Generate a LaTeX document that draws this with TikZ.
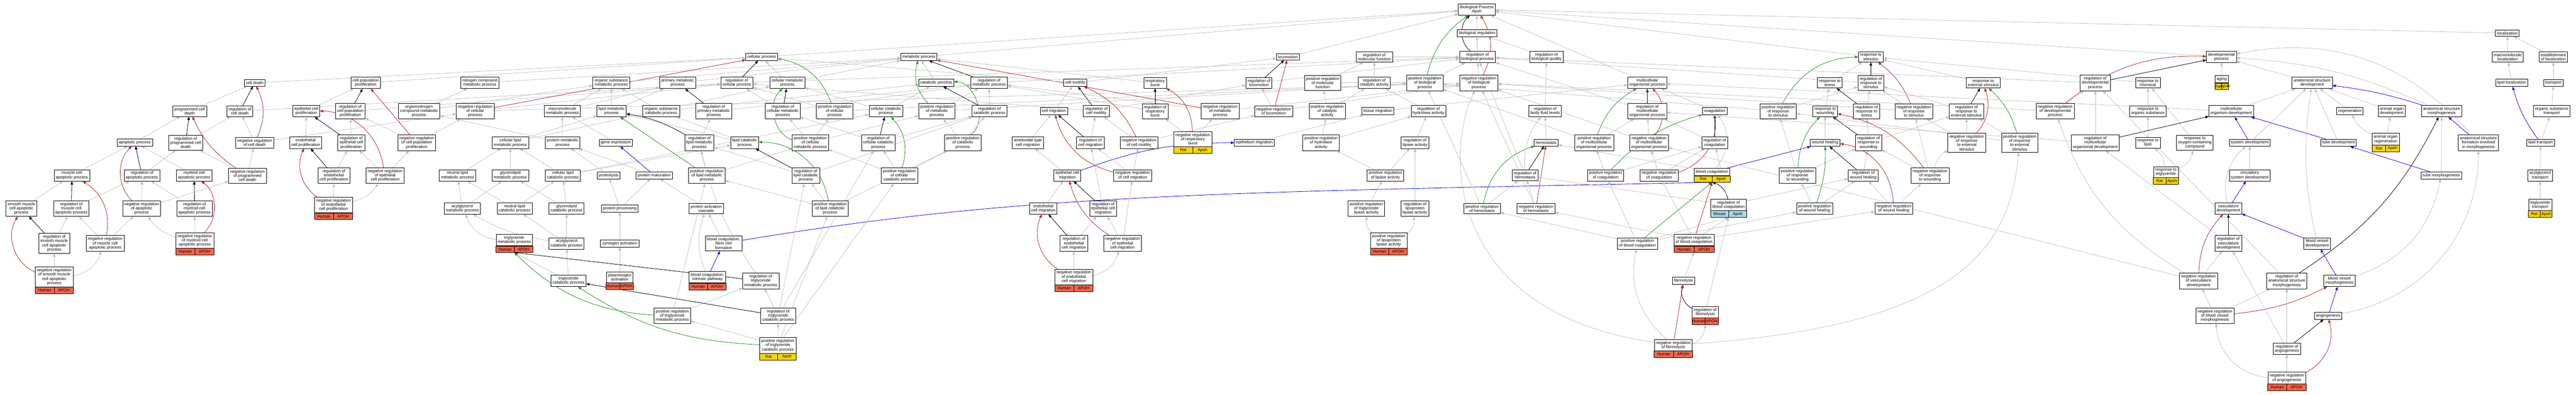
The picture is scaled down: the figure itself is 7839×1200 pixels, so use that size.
\documentclass[tikz,border=0pt]{standalone}
\usepackage{fontspec}
\setmainfont{Liberation Sans}
\usetikzlibrary{arrows.meta,calc}
\definecolor{isagray}{HTML}{BEBEBE}
\definecolor{negred}{HTML}{B22222}
\definecolor{posgreen}{HTML}{228B22}
\definecolor{partblue}{HTML}{0000FF}
\definecolor{humred}{HTML}{FF6347}
\definecolor{ratgold}{HTML}{FFD700}
\definecolor{mouseblue}{HTML}{ADD8E6}
\newcommand{\gofont}{\fontsize{12.5}{13}\selectfont}
\newcommand{\gotag}[4]{%
  \filldraw[fill=#2, draw=black, line width=1.1pt] (#1.south west) rectangle ($(#1.south east)+(0,20)$);
  \draw[line width=1.1pt] (#1.south) -- ($(#1.south)+(0,20)$);
  \node[tagtext] (#1-sp) at ($(#1.south west)!0.5!(#1.south)+(0,10)$) {#3};
  \node[tagtext] (#1-gn) at ($(#1.south)!0.5!(#1.south east)+(0,10)$) {#4};
  \coordinate (#1-b) at ($(#1.south)+(0,20)$);
}
\pgfdeclarelayer{edges}
\pgfsetlayers{edges,main}
\begin{document}
\begin{tikzpicture}[x=1pt,y=-1pt,
  box/.style={draw, line width=1.1pt, fill=white, align=center, inner xsep=5pt, inner ysep=5pt, font=\gofont},
  tagtext/.style={inner sep=0pt, font=\gofont},
  isa/.style={isagray, line width=1.2pt, -{Triangle[length=10pt,width=8pt]}},
  reg/.style={black, line width=1.3pt, -{Triangle[length=10pt,width=8pt]}},
  nreg/.style={negred, line width=1.3pt, -{Triangle[length=10pt,width=8pt]}},
  preg/.style={posgreen, line width=1.3pt, -{Triangle[length=10pt,width=8pt]}},
  partof/.style={partblue, line width=1.3pt, -{Triangle[length=10pt,width=8pt]}}]
\useasboundingbox (0,0) rectangle (7839,1200);
\node[box] (pcd) at (577,338){programmed cell\\death};
\node[box] (apo) at (410,433){apoptotic process};
\node[box] (rpcd) at (565,434){regulation of\\programmed cell\\death};
\node[box] (mcap) at (219,533){muscle cell\\apoptotic process};
\node[box] (rap) at (432,533){regulation of\\apoptotic process};
\node[box] (myap) at (591,533){myeloid cell\\apoptotic process};
\node[box] (smap) at (65,634){smooth muscle\\cell apoptotic\\process};
\node[box] (rmcap) at (217,634){regulation of\\muscle cell\\apoptotic process};
\node[box] (nrap) at (431,634){negative regulation\\of apoptotic\\process};
\node[box] (rmyap) at (592,634){regulation of\\myeloid cell\\apoptotic process};
\node[box] (rsmap) at (165,740){regulation of\\smooth muscle\\cell apoptotic\\process};
\node[box] (nrmcap) at (320,740){negative regulation\\of muscle cell\\apoptotic process};
\node[box] (nrmyap) at (593,731){negative regulation\\of myeloid cell\\apoptotic process};
\gotag{nrmyap}{humred}{Human}{APOH}
\node[box] (nrsmap) at (165,842){negative regulation\\of smooth muscle\\cell apoptotic\\process};
\gotag{nrsmap}{humred}{Human}{APOH}
\node[box] (cd) at (775,252){cell death};
\node[box] (rcd) at (730,338){regulation of\\cell death};
\node[box] (nrcd) at (775,434){negative regulation\\of cell death};
\node[box] (nrpcd) at (753,534){negative regulation\\of programmed\\cell death};
\node[box] (epp) at (932,338){epithelial cell\\proliferation};
\node[box] (cpp) at (1113,252){cell population\\proliferation};
\node[box] (rcpp) at (1066,338){regulation of\\cell population\\proliferation};
\node[box] (onm) at (1275,338){organonitrogen\\compound metabolic\\process};
\node[box] (edp) at (930,434){endothelial\\cell proliferation};
\node[box] (repp) at (1069,434){regulation of\\epithelial cell\\proliferation};
\node[box] (nrcpp) at (1268,434){negative regulation\\of cell population\\proliferation};
\node[box] (redp) at (1016,534){regulation of\\endothelial\\cell proliferation};
\node[box] (nrepp) at (1172,534){negative regulation\\of epithelial\\cell proliferation};
\node[box] (nredp) at (1015,623){negative regulation\\of endothelial\\cell proliferation};
\gotag{nredp}{humred}{Human}{APOH}
\node[box] (ncm) at (1460,252){nitrogen compound\\metabolic process};
\node[box] (nrcp) at (1446,338){negative regulation\\of cellular\\process};
\node[box] (osm) at (1860,252){organic substance\\metabolic process};
\node[box] (mmp) at (1711,338){macromolecule\\metabolic process};
\node[box] (lmp) at (1861,338){lipid metabolic\\process};
\node[box] (clm) at (1553,434){cellular lipid\\metabolic process};
\node[box] (pmp) at (1712,434){protein metabolic\\process};
\node[box] (gex) at (1874,434){gene expression};
\node[box] (nlm) at (1392,533){neutral lipid\\metabolic process};
\node[box] (glm) at (1553,533){glycerolipid\\metabolic process};
\node[box] (clc) at (1713,533){cellular lipid\\catabolic process};
\node[box] (prot) at (1852,533){proteolysis};
\node[box] (agm) at (1407,634){acylglycerol\\metabolic process};
\node[box] (nlc) at (1566,634){neutral lipid\\catabolic process};
\node[box] (glc) at (1724,634){glycerolipid\\catabolic process};
\node[box] (ppr) at (1886,634){protein processing};
\node[box] (tgm) at (1565,730){triglyceride\\metabolic process};
\gotag{tgm}{humred}{Human}{APOH}
\node[box] (agc) at (1724,740){acylglycerol\\catabolic process};
\node[box] (zyg) at (1886,740){zymogen activation};
\node[box] (tgc) at (1730,854){triglyceride\\catabolic process};
\node[box] (plg) at (1886,843){plasminogen\\activation};
\gotag{plg}{humred}{Human}{APOH}
\node[box] (cp) at (2318,173){cellular process};
\node[box] (mp) at (2796,173){metabolic process};
\node[box] (pm) at (2062,252){primary metabolic\\process};
\node[box] (rcp) at (2242,252){regulation of\\cellular process};
\node[box] (cmp) at (2396,252){cellular metabolic\\process};
\node[box] (cat) at (2849,252){catabolic process};
\node[box] (rmp) at (3010,252){regulation of\\metabolic process};
\node[box] (osc) at (2012,338){organic substance\\catabolic process};
\node[box] (rpm) at (2172,338){regulation of\\primary metabolic\\process};
\node[box] (rcmp) at (2382,338){regulation of\\cellular metabolic\\process};
\node[box] (prcp) at (2540,338){positive regulation\\of cellular\\process};
\node[box] (ccat) at (2696,338){cellular catabolic\\process};
\node[box] (prmp) at (2851,338){positive regulation\\of metabolic\\process};
\node[box] (rcat) at (3011,338){regulation of\\catabolic process};
\node[box] (rlm) at (2128,434){regulation of\\lipid metabolic\\process};
\node[box] (lcat) at (2266,434){lipid catabolic\\process};
\node[box] (prcmp) at (2466,434){positive regulation\\of cellular\\metabolic process};
\node[box] (rccat) at (2673,434){regulation of\\cellular catabolic\\process};
\node[box] (prcat) at (2930,434){positive regulation\\of catabolic\\process};
\node[box] (amc) at (3128,434){ameboidal-type\\cell migration};
\node[box] (pmat) at (1991,533){protein maturation};
\node[box] (prlm) at (2151,534){positive regulation\\of lipid metabolic\\process};
\node[box] (rlc) at (2452,534){regulation of\\lipid catabolic\\process};
\node[box] (prccat) at (2737,534){positive regulation\\of cellular\\catabolic process};
\node[box] (pac) at (2149,634){protein activation\\cascade};
\node[box] (prlc) at (2526,634){positive regulation\\of lipid catabolic\\process};
\node[box] (bcf) at (2202,740){blood coagulation,\\fibrin clot\\formation};
\node[box] (bci) at (2153,843){blood coagulation,\\intrinsic pathway};
\gotag{bci}{humred}{Human}{APOH}
\node[box] (rtgm) at (2315,854){regulation of\\triglyceride\\metabolic process};
\node[box] (prtgm) at (2046,960){positive regulation\\of triglyceride\\metabolic process};
\node[box] (rtgc) at (2368,960){regulation of\\triglyceride\\catabolic process};
\node[box] (prtgc) at (2367,1050){positive regulation\\of triglyceride\\catabolic process};
\gotag{prtgc}{ratgold}{Rat}{Apoh}
\node[box] (cmot) at (3272,252){cell motility};
\node[box] (rb) at (3515,252){respiratory\\burst};
\node[box] (loc) at (3919,173){locomotion};
\node[box] (rmf) at (4182,173){regulation of\\molecular function};
\node[box] (rloc) at (3831,252){regulation of\\locomotion};
\node[box] (prmf) at (4025,252){positive regulation\\of molecular\\function};
\node[box] (rca) at (4182,252){regulation of\\catalytic activity};
\node[box] (prbp) at (4336,252){positive regulation\\of biological\\process};
\node[box] (cmig) at (3207,338){cell migration};
\node[box] (rcmot) at (3336,338){regulation of\\cell motility};
\node[box] (rrb) at (3515,338){regulation of\\respiratory\\burst};
\node[box] (nrmp) at (3713,338){negative regulation\\of metabolic\\process};
\node[box] (nrloc) at (3876,338){negative regulation\\of locomotion};
\node[box] (prca) at (4039,338){positive regulation\\of catalytic\\activity};
\node[box] (tmig) at (4193,338){tissue migration};
\node[box] (rha) at (4347,338){regulation of\\hydrolase activity};
\node[box] (rcmig) at (3318,434){regulation of\\cell migration};
\node[box] (nrcmot) at (3466,434){negative regulation\\of cell motility};
\node[box] (nrrb) at (3630,423){negative regulation\\of respiratory\\burst};
\gotag{nrrb}{ratgold}{Rat}{Apoh}
\node[box] (emig) at (3817,434){epithelium migration};
\node[box] (prha) at (4020,434){positive regulation\\of hydrolase\\activity};
\node[box] (rla) at (4306,434){regulation of\\lipase activity};
\node[box] (ecm) at (3248,533){epithelial cell\\migration};
\node[box] (nrcmig) at (3447,533){negative regulation\\of cell migration};
\node[box] (prla) at (4216,533){positive regulation\\of lipase activity};
\node[box] (edm) at (3175,634){endothelial\\cell migration};
\node[box] (recm) at (3357,634){regulation of\\epithelial cell\\migration};
\node[box] (prtla) at (4158,634){positive regulation\\of triglyceride\\lipase activity};
\node[box] (rlpl) at (4306,634){regulation of\\lipoprotein\\lipase activity};
\node[box] (redm) at (3268,740){regulation of\\endothelial\\cell migration};
\node[box] (nrecm) at (3416,740){negative regulation\\of epithelial\\cell migration};
\node[box] (prlpl) at (4226,731){positive regulation\\of lipoprotein\\lipase activity};
\gotag{prlpl}{humred}{Human}{APOH}
\node[box] (nredm) at (3268,842){negative regulation\\of endothelial\\cell migration};
\gotag{nredm}{humred}{Human}{APOH}
\node[box, line width=1.5pt] (root) at (4494,29){Biological Process\\Apoh};
\node[box] (breg) at (4495,101){biological regulation};
\node[box] (rbp) at (4496,173){regulation of\\biological process};
\node[box] (rbq) at (4706,173){regulation of\\biological quality};
\node[box] (nrbp) at (4500,252){negative regulation\\of biological\\process};
\node[box] (mop) at (5013,252){multicellular\\organismal process};
\node[box] (rbfl) at (4702,338){regulation of\\body fluid levels};
\node[box] (rmop) at (5013,338){regulation of\\multicellular\\organismal process};
\node[box] (coag) at (5218,338){coagulation};
\node[box] (prrs) at (5411,338){positive regulation\\of response\\to stimulus};
\node[box] (hem) at (4705,434){hemostasis};
\node[box] (prmop) at (4851,434){positive regulation\\of multicellular\\organismal process};
\node[box] (nrmop) at (5018,434){negative regulation\\of multicellular\\organismal process};
\node[box] (rcoag) at (5218,434){regulation of\\coagulation};
\node[box] (rhem) at (4641,533){regulation of\\hemostasis};
\node[box] (prcoag) at (4886,533){positive regulation\\of coagulation};
\node[box] (nrcoag) at (5049,533){negative regulation\\of coagulation};
\node[box] (bc) at (5210,523){blood coagulation};
\gotag{bc}{ratgold}{Rat}{Apoh}
\node[box] (prrw) at (5470,534){positive regulation\\of response\\to wounding};
\node[box] (prhem) at (4510,634){positive regulation\\of hemostasis};
\node[box] (nrhem) at (4674,634){negative regulation\\of hemostasis};
\node[box] (rbc) at (5260,623){regulation of\\blood coagulation};
\gotag{rbc}{mouseblue}{Mouse}{Apoh}
\node[box] (prwh) at (5522,634){positive regulation\\of wound healing};
\node[box] (prbc) at (4983,740){positive regulation\\of blood coagulation};
\node[box] (nrbc) at (5155,730){negative regulation\\of blood coagulation};
\gotag{nrbc}{humred}{Human}{APOH}
\node[box] (fib) at (5123,854){fibrinolysis};
\node[box] (rfib) at (5189,949){regulation of\\fibrinolysis};
\gotag{rfib}{humred}{Human}{APOH}
\node[box] (nrfib) at (5092,1049){negative regulation\\of fibrinolysis};
\gotag{nrfib}{humred}{Human}{APOH}
\node[box] (rs) at (5693,173){response to\\stimulus};
\node[box] (rst) at (5568,252){response to\\stress};
\node[box] (rrs) at (5693,252){regulation of\\response to\\stimulus};
\node[box] (res) at (6035,252){response to\\external stimulus};
\node[box] (rdp) at (6376,252){regulation of\\developmental\\process};
\node[box] (rch) at (6536,252){response to\\chemical};
\node[box] (rw) at (5554,338){response to\\wounding};
\node[box] (rrst) at (5680,338){regulation of\\response to\\stress};
\node[box] (nrrs) at (5824,338){negative regulation\\of response\\to stimulus};
\node[box] (rres) at (5984,338){regulation of\\response to\\external stimulus};
\node[box] (nrdp) at (6254,338){negative regulation\\of developmental\\process};
\node[box] (ros) at (6536,338){response to\\organic substance};
\node[box] (wh) at (5554,434){wound healing};
\node[box] (rrw) at (5686,434){regulation of\\response to\\wounding};
\node[box] (nrres) at (5985,434){negative regulation\\of response\\to external\\stimulus};
\node[box] (prres) at (6146,434){positive regulation\\of response\\to external\\stimulus};
\node[box] (rmod) at (6376,434){regulation of\\multicellular\\organismal development};
\node[box] (rlip) at (6536,434){response to\\lipid};
\node[box] (rox) at (6679,434){response to\\oxygen-containing\\compound};
\node[box] (rwh) at (5670,533){regulation of\\wound healing};
\node[box] (nrrw) at (5873,534){negative regulation\\of response\\to wounding};
\node[box] (rtg) at (6591,523){response to\\triglyceride};
\gotag{rtg}{ratgold}{Rat}{Apoh}
\node[box] (nrwh) at (5763,634){negative regulation\\of wound healing};
\node[box] (loczn) at (7630,101){localization};
\node[box] (dp) at (6760,173){developmental\\process};
\node[box] (mloc) at (7631,173){macromolecule\\localization};
\node[box] (eloc) at (7770,173){establishment\\of localization};
\node[box] (aging) at (6761,241){aging};
\gotag{aging}{ratgold}{Rat}{Apoh}
\node[box] (asd) at (7036,252){anatomical structure\\development};
\node[box] (lloc) at (7643,252){lipid localization};
\node[box] (trn) at (7770,252){transport};
\node[box] (mod) at (6790,338){multicellular\\organism development};
\node[box] (regen) at (7151,338){regeneration};
\node[box] (aod) at (7278,338){animal organ\\development};
\node[box] (asm) at (7430,338){anatomical structure\\morphogenesis};
\node[box] (ost) at (7765,338){organic substance\\transport};
\node[box] (sysd) at (6846,434){system development};
\node[box] (tubd) at (7116,434){tube development};
\node[box] (aor) at (7260,423){animal organ\\regeneration};
\gotag{aor}{ratgold}{Rat}{Apoh}
\node[box] (asf) at (7542,434){anatomical structure\\formation involved\\in morphogenesis};
\node[box] (ltr) at (7731,434){lipid transport};
\node[box] (csd) at (6846,533){circulatory\\system development};
\node[box] (tubm) at (7429,533){tube morphogenesis};
\node[box] (agt) at (7730,533){acylglycerol\\transport};
\node[box] (vd) at (6781,634){vasculature\\development};
\node[box] (tgt) at (7730,623){triglyceride\\transport};
\gotag{tgt}{ratgold}{Rat}{Apoh}
\node[box] (rvd) at (6781,740){regulation of\\vasculature\\development};
\node[box] (bvd) at (7051,740){blood vessel\\development};
\node[box] (nrvd) at (6690,854){negative regulation\\of vasculature\\development};
\node[box] (rasm) at (6959,854){regulation of\\anatomical structure\\morphogenesis};
\node[box] (bvm) at (7119,854){blood vessel\\morphogenesis};
\node[box] (nrbvm) at (6740,960){negative regulation\\of blood vessel\\morphogenesis};
\node[box] (ang) at (7085,960){angiogenesis};
\node[box] (rang) at (6959,1060){regulation of\\angiogenesis};
\node[box] (nrang) at (6959,1149){negative regulation\\of angiogenesis};
\gotag{nrang}{humred}{Human}{APOH}
\begin{pgfonlayer}{edges}
\draw[isa](apo) -- (pcd);
\draw[reg](rpcd) -- (pcd);
\draw[isa](mcap) -- (apo);
\draw[reg](rap) -- (apo);
\draw[isa](rap) -- (rpcd);
\draw[isa](myap) -- (apo);
\draw[isa](smap) -- (mcap);
\draw[reg](rmcap) -- (mcap);
\draw[isa](rmcap) -- (rap);
\draw[nreg](nrap) to[bend left=45] (apo);
\draw[isa](nrap) -- (rap);
\draw[isa](nrap) -- (nrpcd);
\draw[reg](rmyap) -- (myap);
\draw[isa](rmyap) -- (rap);
\draw[reg](rsmap) -- (smap);
\draw[isa](rsmap) -- (rmcap);
\draw[isa](nrmcap) -- (rmcap);
\draw[nreg](nrmcap) to[bend right=35] (mcap);
\draw[isa](nrmcap) -- (nrap);
\draw[nreg](nrsmap) to[bend left=50] (smap);
\draw[isa](nrsmap) -- (rsmap);
\draw[isa](nrsmap) to[bend right=30] (nrmcap);
\draw[isa](nrmyap) -- (rmyap);
\draw[isa](nrmyap) to[bend left=20] (nrap);
\draw[nreg](nrmyap) to[bend right=50] (myap);
\draw[isa](pcd) -- (cd);
\draw[isa](rpcd) -- (rcd);
\draw[isa](nrpcd) -- (rpcd);
\draw[nreg](nrpcd) to[bend left=15] (pcd);
\draw[isa](nrpcd) -- (nrcd);
\draw[reg](rcd) -- (cd);
\draw[nreg](nrcd) to[bend right=25] (cd);
\draw[isa](nrcd) -- (rcd);
\draw[isa](cd) -- (cp);
\draw[isa](rcd) -- (rcp);
\draw[isa](nrcd) -- (nrcp);
\draw[isa](edp) -- (epp);
\draw[isa](epp) -- (cpp);
\draw[reg](rcpp) -- (cpp);
\draw[reg](repp) -- (epp);
\draw[isa](repp) -- (rcpp);
\draw[reg](redp) -- (edp);
\draw[isa](redp) -- (repp);
\draw[isa](nrepp) -- (repp);
\draw[nreg](nrepp) to[bend right=40] (epp);
\draw[isa](nrepp) -- (nrcpp);
\draw[nreg](nredp) to[bend left=40] (edp);
\draw[isa](nredp) -- (redp);
\draw[isa](nredp) to[bend right=20] (nrepp);
\draw[nreg](nrcpp) -- (cpp);
\draw[isa](nrcpp) -- (rcpp);
\draw[isa](cpp) -- (cp);
\draw[isa](rcpp) -- (rcp);
\draw[isa](nrcpp) -- (nrcp);
\draw[isa](ncm) -- (mp);
\draw[isa](onm) -- (ncm);
\draw[isa](onm) -- (osm);
\draw[nreg](nrcp) -- (cp);
\draw[isa](nrcp) -- (rcp);
\draw[isa](nrcp) -- (nrbp);
\draw[isa](osm) -- (mp);
\draw[isa](mmp) -- (osm);
\draw[isa](mmp) -- (pm);
\draw[isa](lmp) -- (osm);
\draw[isa](lmp) -- (pm);
\draw[isa](clm) -- (lmp);
\draw[isa](clm) -- (cmp);
\draw[isa](pmp) -- (mmp);
\draw[isa](pmp) -- (onm);
\draw[isa](gex) -- (mmp);
\draw[isa](nlm) -- (clm);
\draw[isa](glm) -- (clm);
\draw[isa](clc) -- (clm);
\draw[isa](clc) -- (lcat);
\draw[isa](clc) -- (ccat);
\draw[isa](prot) -- (pmp);
\draw[isa](agm) -- (nlm);
\draw[isa](agm) -- (glm);
\draw[isa](nlc) -- (nlm);
\draw[isa](nlc) -- (clc);
\draw[isa](glc) -- (glm);
\draw[isa](glc) -- (clc);
\draw[isa](ppr) -- (prot);
\draw[isa](ppr) -- (pmat);
\draw[isa](tgm) to[bend left=30] (agm);
\draw[isa](agc) to[bend left=10] (agm);
\draw[isa](agc) -- (nlc);
\draw[isa](agc) -- (glc);
\draw[isa](zyg) -- (ppr);
\draw[isa](tgc) -- (tgm-b);
\draw[isa](tgc) -- (agc);
\draw[isa](plg) -- (zyg);
\draw[partof](pmat) -- (gex);
\draw[isa](pmat) -- (pmp);
\draw[isa](pac) -- (pmat);
\draw[isa](bcf) -- (pac);
\draw[isa](bci) to[bend left=20] (pac);
\draw[partof](bci) -- (bcf);
\draw[partof](bcf) .. controls +(900,-150) and +(-1500,30) .. (bc-b);
\draw[isa](lcat) -- (lmp);
\draw[isa](lcat) -- (osc);
\draw[isa](osc) -- (osm);
\draw[isa](osc) -- (cat);
\draw[isa](ccat) -- (cat);
\draw[isa](ccat) -- (cmp);
\draw[isa](pm) -- (mp);
\draw[isa](cmp) -- (cp);
\draw[isa](cmp) -- (mp);
\draw[isa](cat) -- (mp);
\draw[isa](cp) -- (root);
\draw[isa](mp) -- (root);
\draw[reg](rcp) -- (cp);
\draw[isa](rcp) -- (rbp);
\draw[preg](prcp) to[bend right=30] (cp);
\draw[isa](prcp) -- (rcp);
\draw[isa](prcp) -- (prbp);
\draw[reg](rmp) -- (mp);
\draw[isa](rmp) -- (rbp);
\draw[reg](rpm) -- (pm);
\draw[isa](rpm) -- (rmp);
\draw[reg](rcmp) -- (cmp);
\draw[isa](rcmp) -- (rcp);
\draw[isa](rcmp) -- (rmp);
\draw[preg](prmp) to[bend left=30] (mp);
\draw[isa](prmp) -- (rmp);
\draw[isa](prmp) -- (prbp);
\draw[reg](rcat) -- (cat);
\draw[isa](rcat) -- (rmp);
\draw[reg](rlm) to[bend right=10] (lmp);
\draw[isa](rlm) -- (rpm);
\draw[preg](prcmp) to[bend left=60] (cmp);
\draw[isa](prcmp) -- (rcmp);
\draw[isa](prcmp) -- (prcp);
\draw[isa](prcmp) -- (prmp);
\draw[reg](rccat) -- (ccat);
\draw[isa](rccat) -- (rcat);
\draw[isa](rccat) -- (rcmp);
\draw[preg](prcat) to[bend right=70] (cat);
\draw[isa](prcat) -- (rcat);
\draw[isa](prcat) -- (prmp);
\draw[preg](prlm) -- (lmp);
\draw[isa](prlm) -- (rlm);
\draw[isa](prlm) -- (prcmp);
\draw[reg](rlc) -- (lcat);
\draw[isa](rlc) -- (rlm);
\draw[isa](rlc) -- (rcat);
\draw[preg](prccat) to[bend right=30] (ccat);
\draw[isa](prccat) -- (rccat);
\draw[isa](prccat) -- (prcat);
\draw[isa](prccat) -- (prcmp);
\draw[preg](prlc) to[bend right=40] (lcat);
\draw[isa](prlc) -- (rlc);
\draw[isa](prlc) -- (prlm);
\draw[isa](prlc) -- (prcat);
\draw[reg](rtgm) -- (tgm-b);
\draw[isa](rtgm) to[bend left=10] (rlm);
\draw[preg](prtgm) to[bend left=20] (tgm-b);
\draw[isa](prtgm) -- (rtgm);
\draw[isa](prtgm) -- (prlm);
\draw[reg](rtgc) -- (tgc);
\draw[isa](rtgc) -- (rtgm);
\draw[isa](rtgc) -- (rlc);
\draw[isa](rtgc) -- (rccat);
\draw[preg](prtgc) to[bend left=15] (tgc);
\draw[isa](prtgc) -- (rtgc);
\draw[isa](prtgc) -- (prtgm);
\draw[isa](prtgc) -- (prlc);
\draw[isa](prtgc) -- (prccat);
\draw[nreg](nrmp) -- (mp);
\draw[isa](nrmp) -- (rmp);
\draw[isa](nrmp) -- (nrbp);
\draw[isa](cmot) -- (cp);
\draw[isa](cmot) -- (loc);
\draw[isa](rb) -- (mp);
\draw[isa](loc) -- (root);
\draw[isa](rmf) -- (rbp);
\draw[reg](rloc) -- (loc);
\draw[isa](rloc) -- (rbp);
\draw[isa](prmf) -- (rmf);
\draw[isa](prmf) -- (prbp);
\draw[isa](rca) -- (rmf);
\draw[isa](cmig) -- (cmot);
\draw[reg](rcmot) -- (cmot);
\draw[isa](rcmot) -- (rloc);
\draw[isa](rcmot) -- (rcp);
\draw[reg](rrb) -- (rb);
\draw[isa](rrb) -- (rmp);
\draw[nreg](nrloc) -- (loc);
\draw[isa](nrloc) -- (rloc);
\draw[isa](nrloc) -- (nrbp);
\draw[isa](prca) -- (rca);
\draw[isa](prca) -- (prmf);
\draw[isa](tmig) -- (mop);
\draw[isa](rha) -- (rca);
\draw[isa](amc) -- (cmig);
\draw[reg](rcmig) -- (cmig);
\draw[isa](rcmig) -- (rcmot);
\draw[nreg](nrcmot) to[bend right=20] (cmot);
\draw[isa](nrcmot) -- (rcmot);
\draw[isa](nrcmot) -- (nrloc);
\draw[nreg](nrrb) to[bend right=30] (rb);
\draw[isa](nrrb) -- (rrb);
\draw[isa](nrrb) -- (nrmp);
\draw[isa](emig) -- (tmig);
\draw[isa](prha) -- (prca);
\draw[isa](prha) -- (rha);
\draw[isa](rla) -- (rha);
\draw[isa](ecm) -- (amc);
\draw[partof](ecm) to[bend left=10] (emig);
\draw[nreg](nrcmig) to[bend left=30] (cmig);
\draw[isa](nrcmig) -- (rcmig);
\draw[isa](nrcmig) -- (nrcmot);
\draw[isa](prla) -- (prha);
\draw[isa](prla) -- (rla);
\draw[isa](edm) -- (ecm);
\draw[reg](recm) -- (ecm);
\draw[isa](recm) -- (rcmig);
\draw[isa](prtla) -- (prla);
\draw[isa](rlpl) -- (rla);
\draw[reg](redm) -- (edm);
\draw[isa](redm) -- (recm);
\draw[nreg](nrecm) to[bend left=20] (ecm);
\draw[isa](nrecm) -- (recm);
\draw[isa](nrecm) -- (nrcmig);
\draw[isa](prlpl) to[bend left=30] (prtla);
\draw[isa](prlpl) to[bend right=30] (rlpl);
\draw[nreg](nredm) to[bend left=40] (edm);
\draw[isa](nredm) -- (redm);
\draw[isa](nredm) to[bend right=30] (nrecm);
\draw[isa](breg) -- (root);
\draw[isa](rbp) -- (breg);
\draw[reg](rbp) to[bend left=50] (root);
\draw[isa](rbq) -- (breg);
\draw[preg](prbp) to[bend left=20] (root);
\draw[isa](prbp) -- (rbp);
\draw[nreg](nrbp) to[bend right=30] (root);
\draw[isa](nrbp) -- (rbp);
\draw[isa](mop) -- (root);
\draw[isa](rbfl) -- (rbq);
\draw[reg](rmop) -- (mop);
\draw[isa](rmop) -- (rbp);
\draw[isa](coag) -- (mop);
\draw[isa](hem) -- (rbfl);
\draw[preg](prmop) to[bend left=20] (mop);
\draw[isa](prmop) -- (rmop);
\draw[isa](prmop) -- (prbp);
\draw[nreg](nrmop) to[bend right=40] (mop);
\draw[isa](nrmop) -- (rmop);
\draw[isa](nrmop) -- (nrbp);
\draw[reg](rcoag) -- (coag);
\draw[isa](rcoag) -- (rmop);
\draw[reg](rhem) -- (hem);
\draw[isa](rhem) to[bend left=20] (rbfl);
\draw[isa](rhem) -- (rbp);
\draw[preg](prcoag) to[bend left=15] (coag);
\draw[isa](prcoag) -- (prmop);
\draw[isa](prcoag) -- (rcoag);
\draw[nreg](nrcoag) to[bend right=40] (coag);
\draw[isa](nrcoag) -- (nrmop);
\draw[isa](nrcoag) -- (rcoag);
\draw[isa](bc) to[bend right=40] (coag);
\draw[isa](bc) -- (hem);
\draw[preg](prhem) to[bend left=30] (hem);
\draw[isa](prhem) -- (rhem);
\draw[isa](prhem) -- (prbp);
\draw[nreg](nrhem) -- (hem);
\draw[isa](nrhem) -- (rhem);
\draw[isa](nrhem) -- (nrbp);
\draw[reg](rbc) to[bend right=30] (bc-b);
\draw[isa](rbc) -- (rcoag);
\draw[isa](rbc) -- (rhem);
\draw[isa](rbc) -- (rwh);
\draw[preg](prbc) -- (bc-b);
\draw[isa](prbc) -- (prcoag);
\draw[isa](prbc) -- (rbc-b);
\draw[isa](prbc) -- (prhem);
\draw[isa](prbc) -- (prwh);
\draw[nreg](nrbc) -- (bc-b);
\draw[isa](nrbc) -- (rbc-b);
\draw[isa](nrbc) -- (nrcoag);
\draw[isa](nrbc) -- (nrhem);
\draw[isa](nrbc) -- (nrwh);
\draw[isa](fib) -- (nrbc-b);
\draw[reg](rfib) to[bend left=40] (fib);
\draw[isa](rfib) -- (rbc-b);
\draw[nreg](nrfib) -- (fib);
\draw[isa](nrfib) to[bend right=30] (rfib-b);
\draw[isa](nrfib) to[bend left=30] (prbc);
\draw[isa](nrfib) .. controls +(-700,-100) and +(-100,200) .. (nrbp);
\draw[isa](nrfib) .. controls +(900,-60) and +(-30,300) .. (prres);
\draw[isa](rs) -- (root);
\draw[isa](rst) -- (rs);
\draw[reg](rrs) -- (rs);
\draw[isa](rrs) -- (rbp);
\draw[isa](res) -- (rs);
\draw[isa](rch) -- (rs);
\draw[preg](prrs) to[bend left=30] (rs);
\draw[isa](prrs) -- (rrs);
\draw[isa](prrs) -- (prbp);
\draw[isa](rw) -- (rst);
\draw[reg](rrst) -- (rst);
\draw[isa](rrst) -- (rrs);
\draw[nreg](nrrs) to[bend right=15] (rs);
\draw[isa](nrrs) -- (rrs);
\draw[isa](nrrs) -- (nrbp);
\draw[reg](rres) -- (res);
\draw[isa](rres) -- (rrs);
\draw[isa](ros) -- (rch);
\draw[isa](wh) -- (rw);
\draw[reg](rrw) -- (rw);
\draw[isa](rrw) -- (rrst);
\draw[isa](rrw) -- (rres);
\draw[nreg](nrres) to[bend right=30] (res);
\draw[isa](nrres) -- (rres);
\draw[isa](nrres) -- (nrrs);
\draw[preg](prres) to[bend right=15] (res);
\draw[isa](prres) -- (rres);
\draw[isa](prres) -- (prrs);
\draw[isa](rlip) -- (ros);
\draw[isa](rox) -- (rch);
\draw[reg](rwh) -- (wh);
\draw[isa](rwh) -- (rrw);
\draw[nreg](nrrw) to[bend right=20] (rw);
\draw[isa](nrrw) -- (rrw);
\draw[isa](nrrw) -- (nrrs);
\draw[isa](nrrw) to[bend left=20] (nrres);
\draw[isa](rtg) to[bend right=20] (rlip);
\draw[isa](rtg) to[bend right=30] (rox);
\draw[nreg](nrwh) to[bend right=40] (wh);
\draw[isa](nrwh) -- (rwh);
\draw[isa](nrwh) -- (nrrw);
\draw[preg](prrw) to[bend left=20] (rw);
\draw[isa](prrw) -- (rrw);
\draw[isa](prrw) -- (prrs);
\draw[preg](prwh) to[bend right=10] (wh);
\draw[isa](prwh) -- (rwh);
\draw[isa](prwh) -- (prrw);
\draw[partof](bc) -- (wh);
\draw[isa](dp) -- (root);
\draw[reg](rdp) -- (dp);
\draw[isa](rdp) -- (rbp);
\draw[nreg](nrdp) to[bend left=20] (dp);
\draw[isa](nrdp) -- (rdp);
\draw[isa](nrdp) -- (nrbp);
\draw[isa](rmod) -- (rdp);
\draw[isa](rmod) -- (rmop);
\draw[reg](rmod) -- (mod);
\draw[isa](aging) -- (dp);
\draw[isa](asd) -- (dp);
\draw[isa](mod) -- (asd);
\draw[isa](mod) -- (mop);
\draw[isa](regen) -- (asd);
\draw[isa](aod) -- (asd);
\draw[partof](asm) to[bend right=5] (asd);
\draw[isa](asm) to[bend right=10] (dp);
\draw[isa](ost) -- (trn);
\draw[partof](sysd) -- (mod);
\draw[isa](sysd) -- (asd);
\draw[partof](tubd) -- (mod);
\draw[isa](tubd) -- (asd);
\draw[isa](aor) to[bend left=20] (regen);
\draw[isa](aor) -- (aod);
\draw[partof](asf) -- (asm);
\draw[isa](asf) to[bend right=30] (dp);
\draw[partof](ltr) to[bend left=10] (lloc);
\draw[isa](ltr) -- (ost);
\draw[isa](csd) -- (sysd);
\draw[partof](tubm) -- (tubd);
\draw[isa](tubm) -- (asm);
\draw[isa](agt) -- (ltr);
\draw[partof](vd) -- (csd);
\draw[isa](vd) to[bend left=30] (sysd);
\draw[isa](tgt) -- (agt);
\draw[reg](rvd) -- (vd);
\draw[isa](rvd) -- (rmod);
\draw[partof](bvd) -- (vd);
\draw[isa](bvd) to[bend left=10] (asd);
\draw[nreg](nrvd) to[bend left=20] (vd);
\draw[isa](nrvd) -- (rvd);
\draw[isa](nrvd) to[bend left=20] (nrdp);
\draw[isa](nrvd) -- (nrmop);
\draw[reg](rasm) to[bend right=15] (asm);
\draw[isa](rasm) -- (rdp);
\draw[partof](bvm) -- (bvd);
\draw[isa](bvm) to[bend right=30] (tubm);
\draw[nreg](nrbvm) to[bend right=10] (bvm);
\draw[isa](nrbvm) -- (nrvd);
\draw[isa](nrbvm) -- (rasm);
\draw[partof](ang) -- (bvm);
\draw[isa](ang) to[bend right=40] (asf);
\draw[reg](rang) -- (ang);
\draw[isa](rang) -- (rasm);
\draw[isa](rang) -- (rvd);
\draw[nreg](nrang) to[bend right=40] (ang);
\draw[isa](nrang) -- (rang);
\draw[isa](nrang) to[bend left=40] (nrbvm);
\draw[isa](loczn) -- (root);
\draw[isa](mloc) -- (loczn);
\draw[isa](eloc) -- (loczn);
\draw[isa](lloc) -- (mloc);
\draw[isa](trn) -- (eloc);
\end{pgfonlayer}
\end{tikzpicture}
\end{document}
